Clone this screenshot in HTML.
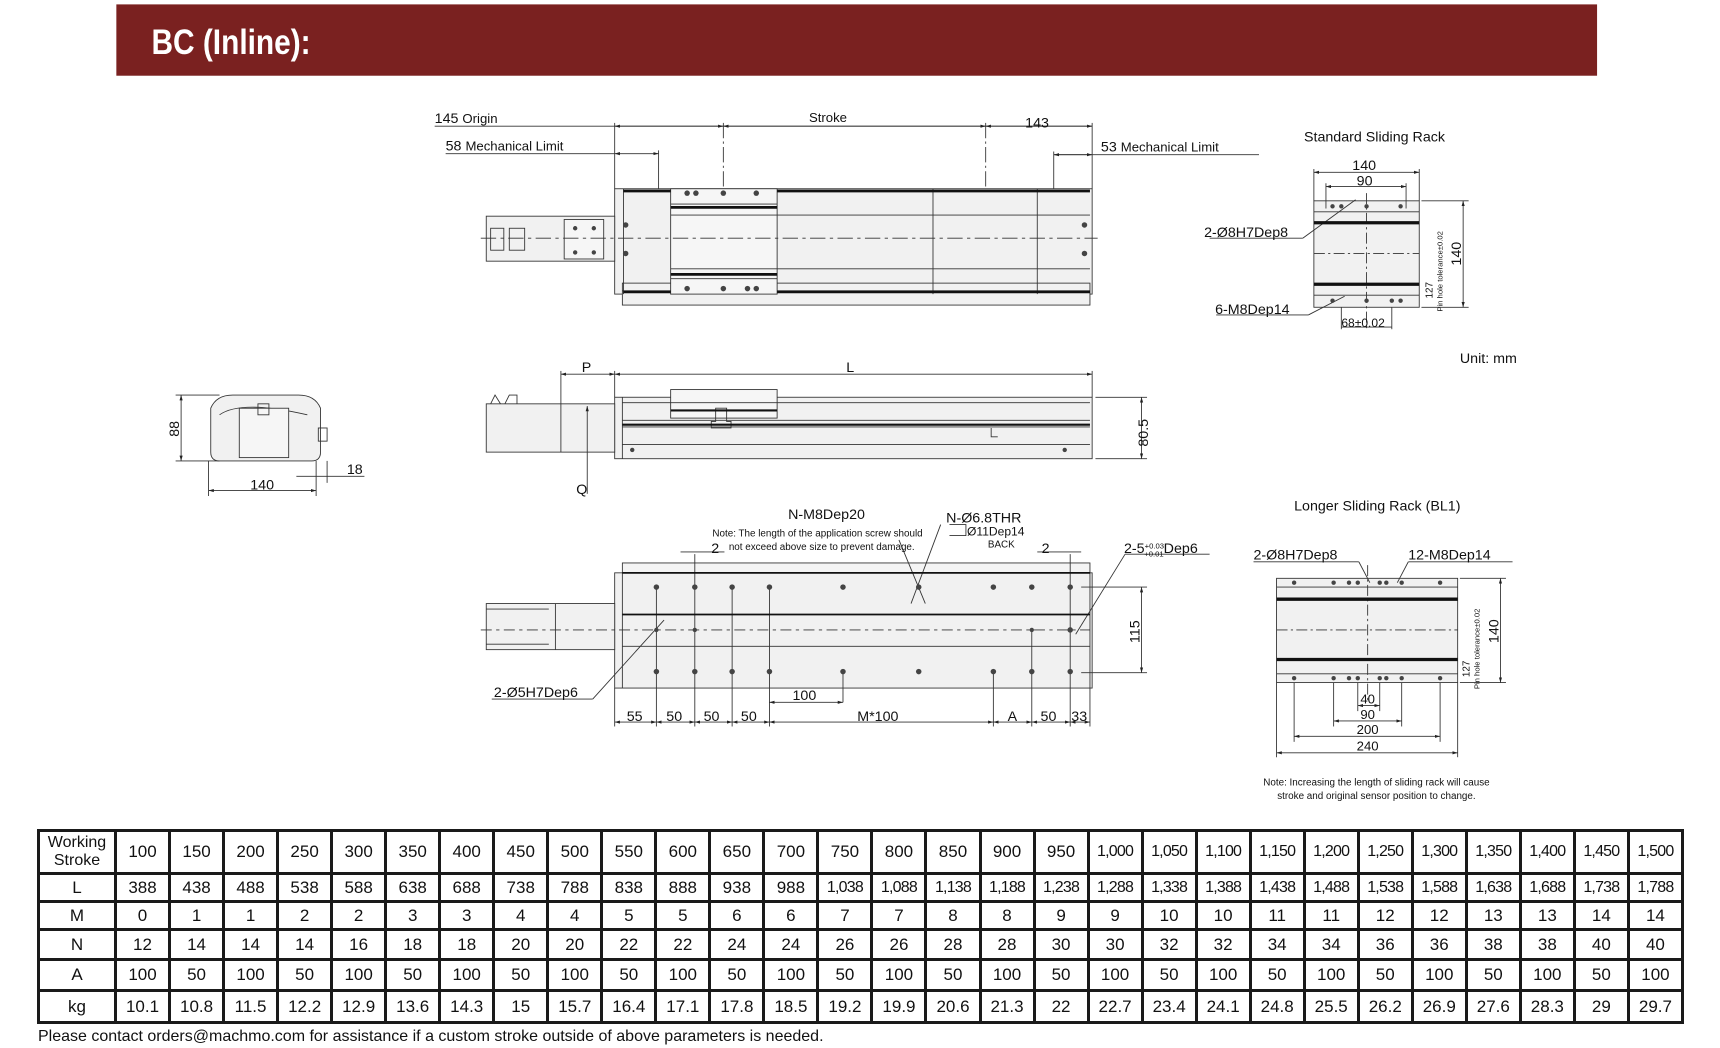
<!DOCTYPE html>
<html><head><meta charset="utf-8"><style>
html,body{margin:0;padding:0;background:#fff;}
body{position:relative;width:1720px;height:1048px;overflow:hidden;}
svg{display:block;position:absolute;left:0;top:0;}
text{font-family:"Liberation Sans",sans-serif;fill:#111;}
table{position:absolute;left:37px;top:829px;width:1647px;height:193px;border-collapse:collapse;table-layout:fixed;font-family:"Liberation Sans",sans-serif;font-size:17px;color:#111;}
td{border:3px solid #1a1a1a;text-align:center;padding:0;white-space:nowrap;overflow:hidden;}
td.h{font-size:16px;line-height:18px;}
td.s{font-size:16px;letter-spacing:-0.8px;}
tr.r0{height:43px}tr.r1{height:28px}tr.r2{height:28px}tr.r3{height:30px}tr.r4{height:31px}tr.r5{height:32px}
.foot{position:absolute;left:38px;top:1028px;font-family:"Liberation Sans",sans-serif;font-size:16px;color:#111;}
</style></head><body>
<svg width="1720" height="1048" viewBox="0 0 1567 955" preserveAspectRatio="none" xmlns="http://www.w3.org/2000/svg">
<defs>
<marker id="a" viewBox="0 0 10 10" refX="10" refY="5" markerWidth="6" markerHeight="6" orient="auto-start-reverse"><path d="M0,2 L10,5 L0,8z" fill="#222"/></marker>
</defs>
<rect x="106" y="4" width="1349" height="65" fill="#7a2120"/>
<text x="138" y="49" font-size="32" font-weight="bold" style="fill:#fff" transform="scale(0.85,1)" transform-origin="138 49">BC (Inline):</text>

<g stroke="#333" stroke-width="0.8" fill="none">
<line x1="396" y1="115" x2="995" y2="115"/>
<line x1="560" y1="115" x2="659" y2="115" marker-start="url(#a)" marker-end="url(#a)"/>
<line x1="659" y1="115" x2="898" y2="115" marker-start="url(#a)" marker-end="url(#a)"/>
<line x1="898" y1="115" x2="995" y2="115" marker-start="url(#a)" marker-end="url(#a)"/>
<line x1="406" y1="140" x2="560" y2="140"/>
<line x1="560" y1="140" x2="600" y2="140" marker-start="url(#a)" marker-end="url(#a)"/>
<line x1="960" y1="141" x2="1147" y2="141"/>
<line x1="960" y1="141" x2="995" y2="141" marker-start="url(#a)" marker-end="url(#a)"/>
<line x1="560" y1="112" x2="560" y2="172"/><line x1="600" y1="137" x2="600" y2="172"/>
<line x1="659" y1="112" x2="659" y2="278" stroke-dasharray="14,3,2,3"/>
<line x1="898" y1="112" x2="898" y2="278" stroke-dasharray="14,3,2,3"/>
<line x1="960" y1="138" x2="960" y2="268"/><line x1="995" y1="112" x2="995" y2="172"/>
<rect x="560" y="172" width="435" height="96" fill="#f1f1f1"/>
<rect x="567" y="258" width="426" height="20" fill="#f1f1f1"/>
<line x1="567" y1="265" x2="993" y2="265"/>
<rect x="611" y="172" width="97" height="96" fill="#f6f6f6"/>
<line x1="568" y1="172" x2="568" y2="268"/><line x1="850" y1="172" x2="850" y2="268"/><line x1="945" y1="172" x2="945" y2="268"/>
<line x1="611" y1="186" x2="708" y2="186"/><line x1="611" y1="254" x2="708" y2="254"/>
<line x1="611" y1="196" x2="708" y2="196"/><line x1="611" y1="245" x2="708" y2="245"/>
<line x1="708" y1="196" x2="993" y2="196"/><line x1="708" y1="245" x2="993" y2="245"/>
<rect x="443" y="197" width="117" height="41" fill="#f1f1f1"/>
<rect x="514" y="200" width="36" height="36" fill="#f6f6f6"/>
<rect x="447" y="208" width="12" height="20"/><rect x="464" y="208" width="14" height="20"/>
<line x1="438" y1="217" x2="1000" y2="217" stroke-dasharray="14,4,3,4"/>
</g>
<g stroke="#111" stroke-width="2.5">
<line x1="568" y1="174" x2="611" y2="174"/><line x1="708" y1="174" x2="993" y2="174"/>
<line x1="568" y1="266" x2="611" y2="266"/><line x1="708" y1="266" x2="993" y2="266"/>
<line x1="611" y1="189" x2="708" y2="189"/><line x1="611" y1="250" x2="708" y2="250"/>
</g>
<g fill="#444">
<circle cx="626" cy="176" r="2.5"/><circle cx="634" cy="176" r="2.5"/><circle cx="659" cy="176" r="2.5"/><circle cx="689" cy="176" r="2.5"/>
<circle cx="626" cy="263" r="2.5"/><circle cx="659" cy="263" r="2.5"/><circle cx="681" cy="263" r="2.5"/><circle cx="689" cy="263" r="2.5"/>
<circle cx="570" cy="205" r="2.5"/><circle cx="570" cy="231" r="2.5"/><circle cx="988" cy="205" r="2.5"/><circle cx="988" cy="231" r="2.5"/>
<circle cx="524" cy="208" r="2"/><circle cx="541" cy="208" r="2"/><circle cx="524" cy="230" r="2"/><circle cx="541" cy="230" r="2"/>
</g>
<g font-size="13">
<text x="396" y="112">145 <tspan font-size="12">Origin</tspan></text>
<text x="737" y="111" font-size="12">Stroke</text>
<text x="934" y="116">143</text>
<text x="406" y="137">58 <tspan font-size="12">Mechanical Limit</tspan></text>
<text x="1003" y="138">53 <tspan font-size="12">Mechanical Limit</tspan></text>
</g>

<g stroke="#333" stroke-width="0.8" fill="none">
<line x1="511" y1="341" x2="560" y2="341" marker-start="url(#a)" marker-end="url(#a)"/>
<line x1="560" y1="341" x2="995" y2="341" marker-start="url(#a)" marker-end="url(#a)"/>
<line x1="511" y1="338" x2="511" y2="368"/><line x1="560" y1="338" x2="560" y2="362"/><line x1="995" y1="338" x2="995" y2="362"/>
<rect x="560" y="362" width="435" height="56" fill="#f1f1f1"/>
<rect x="611" y="355" width="97" height="26" fill="#f6f6f6"/>
<line x1="567" y1="362" x2="567" y2="418"/>
<line x1="567" y1="367" x2="993" y2="367"/><line x1="567" y1="383" x2="993" y2="383"/><line x1="567" y1="389" x2="993" y2="389"/><line x1="567" y1="405" x2="993" y2="405"/>
<rect x="443" y="368" width="117" height="44" fill="#f1f1f1"/>
<line x1="511" y1="368" x2="511" y2="412"/>
<path d="M447,368 l4,-8 l5,8 M460,368 l4,-8 h7 v8"/>
<line x1="535" y1="370" x2="535" y2="450" marker-start="url(#a)"/>
<line x1="998" y1="362" x2="1045" y2="362"/><line x1="998" y1="418" x2="1045" y2="418"/>
<line x1="1040" y1="362" x2="1040" y2="418" marker-start="url(#a)" marker-end="url(#a)"/>
<path d="M652,372 v12 h-4 v6 h18 v-6 h-4 v-12z"/>
<path d="M903,390 v8 h6"/>
</g>
<g stroke="#111" stroke-width="2"><line x1="611" y1="374" x2="708" y2="374"/><line x1="567" y1="387" x2="993" y2="387"/></g>
<circle cx="576" cy="410" r="2" fill="#444"/><circle cx="970" cy="410" r="2" fill="#444"/>
<text x="530" y="339" font-size="13">P</text>
<text x="771" y="339" font-size="13">L</text>
<text x="525" y="450" font-size="13">Q</text>
<text x="0" y="0" font-size="13" transform="translate(1046,407) rotate(-90)">80.5</text>

<g stroke="#333" stroke-width="0.8" fill="none">
<path d="M192,372 q5,-12 20,-12 h60 q15,0 20,12 v40 q0,8 -8,8 h-84 q-8,0 -8,-8z" fill="#f1f1f1"/>
<path d="M200,378 q20,-14 80,0"/>
<rect x="218" y="372" width="45" height="45" fill="#f6f6f6"/>
<rect x="235" y="368" width="10" height="10"/>
<line x1="160" y1="360" x2="200" y2="360"/><line x1="160" y1="420" x2="200" y2="420"/>
<line x1="165" y1="360" x2="165" y2="420" marker-start="url(#a)" marker-end="url(#a)"/>
<line x1="190" y1="420" x2="190" y2="452"/><line x1="288" y1="420" x2="288" y2="452"/>
<line x1="190" y1="447" x2="288" y2="447" marker-start="url(#a)" marker-end="url(#a)"/>
<line x1="298" y1="420" x2="298" y2="440"/><line x1="270" y1="434" x2="332" y2="434"/>
<rect x="290" y="390" width="8" height="12"/>
</g>
<text x="0" y="0" font-size="13" transform="translate(163,398) rotate(-90)">88</text>
<text x="228" y="446" font-size="13">140</text>
<text x="316" y="432" font-size="13">18</text>

<g stroke="#333" stroke-width="0.8" fill="none">
<rect x="567" y="513" width="426" height="9" fill="#f4f4f4"/>
<rect x="560" y="522" width="435" height="105" fill="#f1f1f1"/>
<line x1="567" y1="522" x2="567" y2="627"/><line x1="993" y1="522" x2="993" y2="627"/>
<line x1="567" y1="589" x2="993" y2="589"/>
<rect x="443" y="550" width="117" height="42" fill="#f1f1f1"/>
<line x1="506" y1="550" x2="506" y2="592"/>
<line x1="443" y1="555" x2="500" y2="555"/><line x1="443" y1="587" x2="500" y2="587"/>
<line x1="438" y1="574" x2="993" y2="574" stroke-dasharray="10,4,3,4"/>
<line x1="560" y1="627" x2="560" y2="662"/><line x1="598" y1="535" x2="598" y2="662"/><line x1="633" y1="505" x2="633" y2="662"/>
<line x1="667" y1="535" x2="667" y2="662"/><line x1="701" y1="535" x2="701" y2="662"/><line x1="768" y1="612" x2="768" y2="640"/>
<line x1="905" y1="612" x2="905" y2="662"/><line x1="940" y1="574" x2="940" y2="662"/><line x1="975" y1="505" x2="975" y2="662"/><line x1="993" y1="627" x2="993" y2="662"/>
<line x1="701" y1="640" x2="768" y2="640" marker-start="url(#a)" marker-end="url(#a)"/>
<line x1="560" y1="658" x2="598" y2="658" marker-start="url(#a)" marker-end="url(#a)"/>
<line x1="598" y1="658" x2="633" y2="658" marker-start="url(#a)" marker-end="url(#a)"/>
<line x1="633" y1="658" x2="667" y2="658" marker-start="url(#a)" marker-end="url(#a)"/>
<line x1="667" y1="658" x2="701" y2="658" marker-start="url(#a)" marker-end="url(#a)"/>
<line x1="701" y1="658" x2="905" y2="658" marker-start="url(#a)" marker-end="url(#a)"/>
<line x1="905" y1="658" x2="940" y2="658" marker-start="url(#a)" marker-end="url(#a)"/>
<line x1="940" y1="658" x2="975" y2="658" marker-start="url(#a)" marker-end="url(#a)"/>
<line x1="975" y1="658" x2="993" y2="658" marker-start="url(#a)" marker-end="url(#a)"/>
<line x1="985" y1="535" x2="1045" y2="535"/><line x1="985" y1="613" x2="1045" y2="613"/>
<line x1="1040" y1="535" x2="1040" y2="613" marker-start="url(#a)" marker-end="url(#a)"/>
<line x1="620" y1="503" x2="660" y2="503"/><line x1="945" y1="503" x2="985" y2="503"/>
<line x1="819" y1="492" x2="843" y2="550"/><line x1="857" y1="478" x2="830" y2="550"/>
<line x1="448" y1="637" x2="540" y2="637"/><line x1="540" y1="637" x2="605" y2="565"/>
<line x1="1025" y1="505" x2="1102" y2="505"/><line x1="1025" y1="505" x2="980" y2="578"/>
<path d="M865,478 h15 v10 h-15"/>
</g>
<g stroke="#111" stroke-width="1.6"><line x1="567" y1="522" x2="993" y2="522"/><line x1="567" y1="560" x2="993" y2="560"/></g>
<g fill="#444">
<circle cx="598" cy="535" r="2.5"/><circle cx="633" cy="535" r="2.5"/><circle cx="667" cy="535" r="2.5"/><circle cx="701" cy="535" r="2.5"/><circle cx="768" cy="535" r="2.5"/><circle cx="837" cy="535" r="2.5"/><circle cx="905" cy="535" r="2.5"/><circle cx="940" cy="535" r="2.5"/><circle cx="975" cy="535" r="2.5"/>
<circle cx="598" cy="612" r="2.5"/><circle cx="633" cy="612" r="2.5"/><circle cx="667" cy="612" r="2.5"/><circle cx="701" cy="612" r="2.5"/><circle cx="768" cy="612" r="2.5"/><circle cx="837" cy="612" r="2.5"/><circle cx="905" cy="612" r="2.5"/><circle cx="940" cy="612" r="2.5"/><circle cx="975" cy="612" r="2.5"/>
<circle cx="598" cy="574" r="2"/><circle cx="633" cy="574" r="2"/><circle cx="940" cy="574" r="2"/><circle cx="975" cy="574" r="2.5"/>
</g>
<g font-size="13">
<text x="718" y="473">N-M8Dep20</text>
<text x="862" y="476">N-Ø6.8THR</text>
<text x="881" y="488" font-size="11">Ø11Dep14</text>
<text x="900" y="499" font-size="9">BACK</text>
<text x="649" y="489" font-size="9">Note: The length of the application screw should</text>
<text x="664" y="501" font-size="9">not exceed above size to prevent damage.</text>
<text x="648" y="504">2</text><text x="949" y="504">2</text>
<text x="1024" y="504">2-5<tspan font-size="7" dy="-4">+0.03</tspan><tspan font-size="7" dx="-18" dy="7">+0.01</tspan><tspan dy="-3">Dep6</tspan></text>
<text x="450" y="635">2-Ø5H7Dep6</text>
<text x="722" y="638">100</text>
<text x="571" y="657">55</text><text x="607" y="657">50</text><text x="641" y="657">50</text><text x="675" y="657">50</text>
<text x="781" y="657">M*100</text><text x="918" y="657">A</text><text x="948" y="657">50</text><text x="976" y="657">33</text>
</g>
<text x="0" y="0" font-size="13" transform="translate(1038,586) rotate(-90)">115</text>

<g stroke="#333" stroke-width="0.8" fill="none">
<rect x="1197" y="183" width="96" height="97" fill="#f1f1f1"/>
<line x1="1197" y1="154" x2="1197" y2="183"/><line x1="1293" y1="154" x2="1293" y2="183"/>
<line x1="1197" y1="157" x2="1293" y2="157" marker-start="url(#a)" marker-end="url(#a)"/>
<line x1="1208" y1="167" x2="1208" y2="190"/><line x1="1281" y1="167" x2="1281" y2="190"/>
<line x1="1208" y1="170" x2="1281" y2="170" marker-start="url(#a)" marker-end="url(#a)"/>
<line x1="1295" y1="183" x2="1338" y2="183"/><line x1="1295" y1="280" x2="1338" y2="280"/>
<line x1="1333" y1="183" x2="1333" y2="280" marker-start="url(#a)" marker-end="url(#a)"/>
<line x1="1197" y1="193" x2="1293" y2="193"/><line x1="1197" y1="269" x2="1293" y2="269"/>
<line x1="1197" y1="231" x2="1293" y2="231" stroke-dasharray="10,3,2,3"/>
<line x1="1245" y1="176" x2="1245" y2="300" stroke-dasharray="10,3,2,3"/>
<line x1="1102" y1="217" x2="1187" y2="217"/><line x1="1187" y1="217" x2="1235" y2="182"/>
<line x1="1108" y1="287" x2="1192" y2="287"/><line x1="1192" y1="287" x2="1225" y2="270"/>
<line x1="1222" y1="280" x2="1222" y2="300"/><line x1="1268" y1="280" x2="1268" y2="300"/>
<line x1="1222" y1="298" x2="1268" y2="298"/>
</g>
<g stroke="#111" stroke-width="3"><line x1="1197" y1="203" x2="1293" y2="203"/><line x1="1197" y1="259" x2="1293" y2="259"/></g>
<g fill="#444"><circle cx="1214" cy="188" r="2"/><circle cx="1222" cy="188" r="2"/><circle cx="1245" cy="188" r="2"/><circle cx="1276" cy="188" r="2"/><circle cx="1214" cy="274" r="2"/><circle cx="1245" cy="274" r="2"/><circle cx="1268" cy="274" r="2"/><circle cx="1276" cy="274" r="2"/></g>
<text x="1188" y="129" font-size="13">Standard Sliding Rack</text>
<text x="1232" y="155" font-size="13">140</text><text x="1236" y="169" font-size="13">90</text>
<text x="1097" y="216" font-size="13">2-Ø8H7Dep8</text>
<text x="1107" y="286" font-size="13">6-M8Dep14</text>
<text x="1222" y="298" font-size="11">68±0.02</text>
<text x="0" y="0" font-size="13" transform="translate(1331,242) rotate(-90)">140</text>
<text x="0" y="0" font-size="7" transform="translate(1314,284) rotate(-90)">Pin hole tolerance±0.02</text>
<text x="0" y="0" font-size="9" transform="translate(1305,272) rotate(-90)">127</text>
<text x="1330" y="331" font-size="13">Unit: mm</text>

<g stroke="#333" stroke-width="0.8" fill="none">
<rect x="1163" y="527" width="165" height="95" fill="#f1f1f1"/>
<line x1="1163" y1="535" x2="1328" y2="535"/><line x1="1163" y1="614" x2="1328" y2="614"/>
<line x1="1163" y1="574" x2="1328" y2="574" stroke-dasharray="10,3,2,3"/>
<line x1="1246" y1="515" x2="1246" y2="640" stroke-dasharray="10,3,2,3"/>
<line x1="1330" y1="527" x2="1372" y2="527"/><line x1="1330" y1="622" x2="1372" y2="622"/>
<line x1="1367" y1="527" x2="1367" y2="622" marker-start="url(#a)" marker-end="url(#a)"/>
<line x1="1163" y1="622" x2="1163" y2="690"/><line x1="1328" y1="622" x2="1328" y2="690"/>
<line x1="1179" y1="622" x2="1179" y2="676"/><line x1="1312" y1="622" x2="1312" y2="676"/>
<line x1="1215" y1="622" x2="1215" y2="662"/><line x1="1277" y1="622" x2="1277" y2="662"/>
<line x1="1237" y1="622" x2="1237" y2="648"/><line x1="1257" y1="622" x2="1257" y2="648"/>
<line x1="1237" y1="643" x2="1257" y2="643" marker-start="url(#a)" marker-end="url(#a)"/>
<line x1="1215" y1="657" x2="1277" y2="657" marker-start="url(#a)" marker-end="url(#a)"/>
<line x1="1179" y1="671" x2="1312" y2="671" marker-start="url(#a)" marker-end="url(#a)"/>
<line x1="1163" y1="686" x2="1328" y2="686" marker-start="url(#a)" marker-end="url(#a)"/>
<line x1="1142" y1="512" x2="1238" y2="512"/><line x1="1238" y1="512" x2="1248" y2="531"/>
<line x1="1283" y1="512" x2="1378" y2="512"/><line x1="1283" y1="512" x2="1273" y2="531"/>
</g>
<g stroke="#111" stroke-width="3"><line x1="1163" y1="546" x2="1328" y2="546"/><line x1="1163" y1="601" x2="1328" y2="601"/></g>
<g fill="#444"><circle cx="1179" cy="531" r="2"/><circle cx="1215" cy="531" r="2"/><circle cx="1229" cy="531" r="2"/><circle cx="1237" cy="531" r="2"/><circle cx="1257" cy="531" r="2"/><circle cx="1263" cy="531" r="2"/><circle cx="1277" cy="531" r="2"/><circle cx="1312" cy="531" r="2"/>
<circle cx="1179" cy="618" r="2"/><circle cx="1215" cy="618" r="2"/><circle cx="1229" cy="618" r="2"/><circle cx="1237" cy="618" r="2"/><circle cx="1257" cy="618" r="2"/><circle cx="1263" cy="618" r="2"/><circle cx="1277" cy="618" r="2"/><circle cx="1312" cy="618" r="2"/></g>
<text x="1179" y="465" font-size="13">Longer Sliding Rack (BL1)</text>
<text x="1142" y="510" font-size="13">2-Ø8H7Dep8</text>
<text x="1283" y="510" font-size="13">12-M8Dep14</text>
<text x="0" y="0" font-size="13" transform="translate(1365,586) rotate(-90)">140</text>
<text x="0" y="0" font-size="7" transform="translate(1348,628) rotate(-90)">Pin hole tolerance±0.02</text>
<text x="0" y="0" font-size="9" transform="translate(1339,617) rotate(-90)">127</text>
<g font-size="12" text-anchor="middle"><text x="1246" y="641">40</text><text x="1246" y="655">90</text><text x="1246" y="669">200</text><text x="1246" y="684">240</text></g>
<text x="1254" y="716" font-size="9" text-anchor="middle">Note: Increasing the length of sliding rack will cause</text>
<text x="1254" y="728" font-size="9" text-anchor="middle">stroke and original sensor position to change.</text>
</svg>

<table>
<colgroup><col style="width:77px"><col span="29"></colgroup>
<tr class="r0"><td class="h">Working<br>Stroke</td><td>100</td><td>150</td><td>200</td><td>250</td><td>300</td><td>350</td><td>400</td><td>450</td><td>500</td><td>550</td><td>600</td><td>650</td><td>700</td><td>750</td><td>800</td><td>850</td><td>900</td><td>950</td><td class="s">1,000</td><td class="s">1,050</td><td class="s">1,100</td><td class="s">1,150</td><td class="s">1,200</td><td class="s">1,250</td><td class="s">1,300</td><td class="s">1,350</td><td class="s">1,400</td><td class="s">1,450</td><td class="s">1,500</td></tr>
<tr class="r1"><td>L</td><td>388</td><td>438</td><td>488</td><td>538</td><td>588</td><td>638</td><td>688</td><td>738</td><td>788</td><td>838</td><td>888</td><td>938</td><td>988</td><td class="s">1,038</td><td class="s">1,088</td><td class="s">1,138</td><td class="s">1,188</td><td class="s">1,238</td><td class="s">1,288</td><td class="s">1,338</td><td class="s">1,388</td><td class="s">1,438</td><td class="s">1,488</td><td class="s">1,538</td><td class="s">1,588</td><td class="s">1,638</td><td class="s">1,688</td><td class="s">1,738</td><td class="s">1,788</td></tr>
<tr class="r2"><td>M</td><td>0</td><td>1</td><td>1</td><td>2</td><td>2</td><td>3</td><td>3</td><td>4</td><td>4</td><td>5</td><td>5</td><td>6</td><td>6</td><td>7</td><td>7</td><td>8</td><td>8</td><td>9</td><td>9</td><td>10</td><td>10</td><td>11</td><td>11</td><td>12</td><td>12</td><td>13</td><td>13</td><td>14</td><td>14</td></tr>
<tr class="r3"><td>N</td><td>12</td><td>14</td><td>14</td><td>14</td><td>16</td><td>18</td><td>18</td><td>20</td><td>20</td><td>22</td><td>22</td><td>24</td><td>24</td><td>26</td><td>26</td><td>28</td><td>28</td><td>30</td><td>30</td><td>32</td><td>32</td><td>34</td><td>34</td><td>36</td><td>36</td><td>38</td><td>38</td><td>40</td><td>40</td></tr>
<tr class="r4"><td>A</td><td>100</td><td>50</td><td>100</td><td>50</td><td>100</td><td>50</td><td>100</td><td>50</td><td>100</td><td>50</td><td>100</td><td>50</td><td>100</td><td>50</td><td>100</td><td>50</td><td>100</td><td>50</td><td>100</td><td>50</td><td>100</td><td>50</td><td>100</td><td>50</td><td>100</td><td>50</td><td>100</td><td>50</td><td>100</td></tr>
<tr class="r5"><td>kg</td><td>10.1</td><td>10.8</td><td>11.5</td><td>12.2</td><td>12.9</td><td>13.6</td><td>14.3</td><td>15</td><td>15.7</td><td>16.4</td><td>17.1</td><td>17.8</td><td>18.5</td><td>19.2</td><td>19.9</td><td>20.6</td><td>21.3</td><td>22</td><td>22.7</td><td>23.4</td><td>24.1</td><td>24.8</td><td>25.5</td><td>26.2</td><td>26.9</td><td>27.6</td><td>28.3</td><td>29</td><td>29.7</td></tr>
</table>
<div class="foot">Please contact orders@machmo.com for assistance if a custom stroke outside of above parameters is needed.</div>
</body></html>
